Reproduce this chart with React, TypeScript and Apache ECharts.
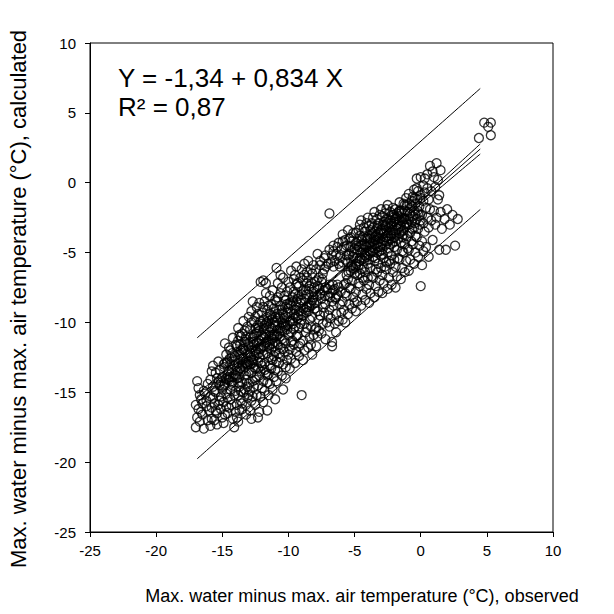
import React, { useEffect, useRef } from "react";
import * as echarts from "echarts";

// Axis ticks
const xTicks = [-25, -20, -15, -10, -5, 0, 5, 10];
const yTicks = [-25, -20, -15, -10, -5, 0, 5, 10];

// Regression
const intercept = -1.34;
const slope = 0.834;
const eqText = "Y = -1,34 + 0,834 X";
const r2Text = "R\u00b2 = 0,87";

// Band positions (x) and half-widths
const bandX = [-16.9, -14, -11, -8, -5, -2, 1, 4.5];
const ciHalf = [0.32, 0.22, 0.13, 0.08, 0.09, 0.15, 0.24, 0.36];
const piHalf = [4.33, 4.31, 4.3, 4.3, 4.3, 4.3, 4.31, 4.33];

// Observed (x) vs calculated (y) points
const points: [number, number][] = [
  [-17.0,-17.5],[-16.9,-16.8],[-16.8,-16.2],[-17.0,-15.9],[-16.7,-17.1],[-16.9,-14.2],[-16.8,-14.7],[-16.6,-15.5],[-16.5,-16.6],[-16.4,-17.6],[-16.3,-15.1],[-16.2,-16.0],[-16.6,-16.4],[-16.1,-17.0],[-16.4,-14.9],[-16.2,-15.6],[-16.0,-16.3],[-16.5,-15.8],[-16.1,-14.4],[-16.7,-15.2],
  [-15.9,-17.4],[-15.8,-16.9],[-15.9,-15.3],[-15.7,-14.6],[-15.8,-16.1],[-15.6,-15.8],[-15.5,-13.6],[-15.7,-13.1],[-15.4,-16.5],[-15.5,-15.0],[-15.3,-14.3],[-15.6,-17.0],[-15.2,-15.6],[-15.4,-14.0],[-15.1,-16.2],[-15.3,-12.8],[-15.2,-13.4],[-15.0,-14.8],[-15.1,-15.3],[-15.9,-14.1],[-15.8,-13.5],[-15.0,-16.8],[-15.4,-17.3],[-15.2,-14.5],[-15.6,-14.9],[-15.5,-16.3],[-15.0,-13.9],[-15.3,-15.9],[-15.7,-15.4],[-15.1,-14.2],
  [-14.9,-17.2],[-14.8,-16.6],[-14.9,-15.7],[-14.7,-15.1],[-14.8,-14.4],[-14.6,-13.7],[-14.9,-13.0],[-14.7,-12.3],[-14.8,-11.5],[-14.5,-16.1],[-14.6,-15.4],[-14.4,-14.8],[-14.5,-14.1],[-14.3,-13.4],[-14.6,-12.8],[-14.4,-12.0],[-14.2,-16.9],[-14.3,-15.9],[-14.1,-15.2],[-14.2,-14.5],[-14.0,-13.8],[-14.1,-13.1],[-14.3,-12.5],[-14.0,-11.6],[-14.2,-11.1],[-14.1,-17.5],[-14.0,-16.4],[-14.5,-13.5],[-14.7,-14.0],[-14.4,-15.5],[-14.8,-12.9],[-14.2,-13.9],[-14.6,-16.5],[-14.0,-14.9],[-14.3,-14.2],[-14.9,-14.6],[-14.1,-12.7],[-14.5,-11.8],[-14.7,-16.0],[-14.4,-13.0],
  [-13.9,-16.8],[-13.8,-17.1],[-13.9,-15.9],[-13.8,-15.2],[-13.7,-14.6],[-13.9,-14.0],[-13.6,-13.5],[-13.8,-12.9],[-13.7,-12.3],[-13.9,-11.7],[-13.6,-11.0],[-13.8,-10.4],[-13.5,-16.2],[-13.6,-15.6],[-13.4,-15.0],[-13.5,-14.3],[-13.3,-13.8],[-13.5,-13.1],[-13.4,-12.6],[-13.6,-12.0],[-13.3,-11.4],[-13.5,-10.8],[-13.4,-9.9],[-13.2,-16.6],[-13.1,-15.4],[-13.3,-14.8],[-13.2,-14.1],[-13.0,-13.5],[-13.2,-12.9],[-13.1,-12.2],[-13.0,-11.7],[-13.2,-11.0],[-13.1,-10.3],[-13.0,-9.6],[-13.7,-13.9],[-13.4,-13.3],[-13.1,-13.0],[-13.6,-14.9],[-13.3,-12.0],[-13.8,-11.3],[-13.5,-15.8],[-13.0,-14.4],[-13.9,-13.2],[-13.2,-15.9],[-13.7,-10.9],[-13.4,-11.9],[-13.1,-14.6],[-13.6,-12.6],[-13.3,-10.6],[-13.0,-12.8],[-13.8,-14.3],[-13.5,-12.2],[-13.2,-13.7],[-13.7,-16.3],[-13.0,-15.2],
  [-12.9,-16.3],[-12.8,-15.6],[-12.9,-14.9],[-12.7,-14.2],[-12.8,-13.6],[-12.9,-13.0],[-12.6,-12.4],[-12.8,-11.8],[-12.7,-11.1],[-12.9,-10.5],[-12.6,-9.9],[-12.8,-9.2],[-12.7,-8.5],[-12.5,-15.9],[-12.4,-15.2],[-12.6,-14.6],[-12.4,-13.9],[-12.5,-13.3],[-12.3,-12.8],[-12.5,-12.1],[-12.4,-11.5],[-12.6,-10.9],[-12.3,-10.2],[-12.5,-9.6],[-12.4,-8.9],[-12.2,-16.4],[-12.1,-15.3],[-12.3,-14.5],[-12.2,-13.8],[-12.0,-13.1],[-12.2,-12.5],[-12.1,-11.9],[-12.0,-11.2],[-12.2,-10.6],[-12.1,-9.9],[-12.0,-9.3],[-12.2,-8.6],[-12.1,-7.1],[-11.9,-7.0],[-11.7,-7.2],[-12.8,-12.7],[-12.6,-13.2],[-12.4,-10.7],[-12.3,-11.9],[-12.7,-12.9],[-12.1,-12.9],[-12.9,-11.4],[-12.5,-14.1],[-12.2,-11.3],[-12.0,-14.7],[-12.6,-11.6],[-12.3,-9.4],[-12.8,-10.0],[-12.4,-12.3],[-12.0,-10.1],[-12.7,-15.3],[-12.1,-13.5],[-12.5,-10.4],[-12.9,-12.2],[-12.3,-13.3],
  [-11.9,-15.7],[-11.8,-14.9],[-11.9,-14.2],[-11.7,-13.6],[-11.8,-12.9],[-11.9,-12.3],[-11.6,-11.7],[-11.8,-11.1],[-11.7,-10.4],[-11.9,-9.8],[-11.6,-9.1],[-11.8,-8.5],[-11.7,-7.9],[-11.5,-15.2],[-11.4,-14.4],[-11.6,-13.8],[-11.4,-13.1],[-11.5,-12.5],[-11.3,-11.9],[-11.5,-11.3],[-11.4,-10.7],[-11.6,-10.1],[-11.3,-9.5],[-11.5,-8.8],[-11.4,-8.1],[-11.2,-14.8],[-11.1,-13.9],[-11.3,-13.3],[-11.2,-12.7],[-11.0,-12.1],[-11.2,-11.5],[-11.1,-10.9],[-11.0,-10.2],[-11.2,-9.7],[-11.1,-9.0],[-11.0,-8.4],[-11.2,-7.7],[-10.9,-6.1],[-11.8,-13.4],[-11.6,-12.2],[-11.4,-11.6],[-11.7,-10.9],[-11.3,-10.4],[-11.0,-11.4],[-11.5,-9.9],[-11.9,-11.0],[-11.1,-12.4],[-11.6,-14.3],[-11.3,-12.6],[-11.8,-10.2],[-11.0,-13.4],[-11.4,-9.4],[-11.7,-11.5],[-11.2,-10.9],[-11.5,-13.7],[-11.9,-8.9],[-11.1,-11.7],[-11.3,-8.7],[-11.6,-9.6],[-11.0,-9.6],
  [-10.9,-14.2],[-10.8,-13.5],[-10.9,-12.8],[-10.7,-12.2],[-10.8,-11.6],[-10.9,-11.0],[-10.6,-10.4],[-10.8,-9.7],[-10.7,-9.1],[-10.9,-8.5],[-10.6,-7.9],[-10.8,-7.2],[-10.5,-13.8],[-10.4,-13.0],[-10.6,-12.5],[-10.4,-11.9],[-10.5,-11.2],[-10.3,-10.6],[-10.5,-10.0],[-10.4,-9.4],[-10.6,-8.8],[-10.3,-8.1],[-10.5,-7.5],[-10.4,-6.8],[-10.2,-14.0],[-10.1,-12.7],[-10.3,-12.1],[-10.2,-11.5],[-10.0,-10.9],[-10.2,-10.2],[-10.1,-9.6],[-10.0,-9.0],[-10.2,-8.4],[-10.1,-7.8],[-10.0,-7.1],[-10.7,-10.8],[-10.3,-11.3],[-10.9,-9.9],[-10.5,-9.1],[-10.1,-10.5],[-10.6,-11.8],[-10.2,-13.2],[-10.8,-8.2],[-10.4,-10.1],[-10.0,-12.3],[-10.7,-12.9],[-10.3,-9.7],[-10.9,-10.6],[-10.1,-8.7],[-10.6,-6.6],
  [-9.9,-13.3],[-9.8,-12.6],[-9.9,-11.9],[-9.7,-11.3],[-9.8,-10.7],[-9.9,-10.0],[-9.6,-9.4],[-9.8,-8.8],[-9.7,-8.2],[-9.9,-7.5],[-9.6,-6.9],[-9.8,-6.3],[-9.5,-12.9],[-9.4,-12.1],[-9.6,-11.6],[-9.4,-11.0],[-9.5,-10.3],[-9.3,-9.7],[-9.5,-9.1],[-9.4,-8.5],[-9.6,-7.8],[-9.3,-7.2],[-9.5,-6.6],[-9.4,-6.0],[-9.2,-12.4],[-9.1,-11.5],[-9.3,-10.9],[-9.2,-10.4],[-9.0,-9.8],[-9.2,-9.2],[-9.1,-8.6],[-9.0,-8.0],[-9.2,-7.4],[-9.1,-6.8],[-9.0,-6.2],[-9.0,-15.2],[-9.7,-9.9],[-9.3,-8.3],[-9.8,-11.4],[-9.1,-10.1],[-9.6,-10.5],[-9.4,-7.3],[-9.9,-8.6],[-9.2,-11.7],[-9.5,-8.0],
  [-8.9,-12.7],[-8.8,-12.0],[-8.9,-11.3],[-8.7,-10.7],[-8.8,-10.1],[-8.9,-9.5],[-8.6,-8.9],[-8.8,-8.3],[-8.7,-7.7],[-8.9,-7.0],[-8.6,-6.4],[-8.8,-5.8],[-8.5,-11.8],[-8.4,-11.1],[-8.6,-10.4],[-8.4,-9.8],[-8.5,-9.2],[-8.3,-8.6],[-8.5,-8.0],[-8.4,-7.4],[-8.6,-6.8],[-8.3,-6.2],[-8.5,-5.6],[-8.2,-12.3],[-8.1,-10.9],[-8.3,-10.3],[-8.2,-9.6],[-8.0,-9.0],[-8.2,-8.4],[-8.1,-7.8],[-8.0,-7.1],[-8.2,-6.5],[-8.1,-5.9],[-8.7,-9.1],[-8.4,-8.8],[-8.0,-10.5],[-8.8,-6.6],[-8.3,-11.6],[-8.6,-7.2],[-8.1,-8.2],
  [-7.9,-11.7],[-7.8,-11.0],[-7.9,-10.4],[-7.7,-9.8],[-7.8,-9.2],[-7.9,-8.6],[-7.6,-8.0],[-7.8,-7.4],[-7.7,-6.8],[-7.9,-6.2],[-7.6,-5.6],[-7.8,-5.1],[-7.5,-10.8],[-7.4,-10.1],[-7.6,-9.5],[-7.4,-8.9],[-7.5,-8.3],[-7.3,-7.7],[-7.5,-7.1],[-7.4,-6.5],[-7.6,-5.9],[-7.3,-5.4],[-7.2,-11.2],[-7.1,-10.0],[-7.3,-9.3],[-7.2,-8.7],[-7.0,-8.1],[-7.2,-7.5],[-7.0,-5.8],[-7.2,-5.2],[-7.7,-10.6],[-7.3,-6.2],[-7.8,-8.1],[-7.0,-9.5],
  [-6.9,-10.3],[-6.8,-9.7],[-6.9,-9.1],[-6.7,-8.5],[-6.8,-7.9],[-6.9,-7.3],[-6.6,-7.7],[-6.8,-5.7],[-6.7,-5.2],[-6.9,-4.8],[-6.6,-4.5],[-6.5,-10.1],[-6.4,-9.4],[-6.6,-8.8],[-6.4,-8.2],[-6.5,-7.6],[-6.3,-7.3],[-6.5,-5.6],[-6.4,-5.1],[-6.6,-4.9],[-6.3,-4.6],[-6.2,-9.9],[-6.1,-8.7],[-6.3,-8.0],[-6.2,-7.5],[-6.2,-5.8],[-6.1,-5.3],[-6.0,-4.8],[-6.2,-4.3],[-6.9,-2.2],[-6.7,-11.4],[-6.7,-11.7],[-6.4,-10.7],[-6.0,-9.3],[-6.1,-6.0],[-6.6,-6.0],
  [-5.9,-9.8],[-5.8,-9.1],[-5.9,-8.5],[-5.7,-7.9],[-5.8,-7.3],[-5.9,-5.7],[-5.6,-5.2],[-5.8,-4.6],[-5.7,-4.1],[-5.9,-3.7],[-5.5,-9.4],[-5.4,-8.7],[-5.6,-8.1],[-5.4,-7.5],[-5.5,-6.9],[-5.3,-6.3],[-5.5,-5.7],[-5.4,-5.1],[-5.6,-4.5],[-5.3,-3.9],[-5.2,-9.0],[-5.1,-8.2],[-5.3,-7.6],[-5.2,-7.0],[-5.0,-6.5],[-5.2,-5.9],[-5.1,-5.3],[-5.0,-4.7],[-5.2,-4.2],[-5.1,-3.6],[-5.6,-6.6],[-5.4,-4.0],[-5.0,-8.6],[-5.7,-10.0],[-5.3,-4.6],[-5.9,-4.2],[-5.1,-6.1],[-5.5,-3.4],[-5.7,-5.5],
  [-4.9,-9.2],[-4.8,-8.5],[-4.9,-7.8],[-4.7,-7.2],[-4.8,-6.6],[-4.9,-6.0],[-4.6,-5.4],[-4.8,-4.8],[-4.7,-4.2],[-4.9,-3.6],[-4.6,-3.0],[-4.5,-8.8],[-4.4,-8.0],[-4.6,-7.4],[-4.4,-6.8],[-4.5,-6.2],[-4.3,-5.6],[-4.5,-5.0],[-4.4,-4.4],[-4.6,-3.8],[-4.3,-3.2],[-4.5,-2.7],[-4.2,-8.4],[-4.1,-7.6],[-4.3,-7.0],[-4.2,-6.4],[-4.0,-5.8],[-4.2,-5.2],[-4.1,-4.6],[-4.0,-4.0],[-4.2,-3.5],[-4.1,-2.9],[-4.0,-2.5],[-4.7,-5.9],[-4.3,-4.8],[-4.8,-5.4],[-4.4,-3.9],[-4.0,-6.8],[-4.6,-6.5],[-4.1,-5.3],[-4.9,-4.3],[-4.5,-4.5],[-4.2,-4.0],[-4.7,-3.4],[-4.3,-6.1],
  [-3.9,-8.6],[-3.8,-7.9],[-3.9,-7.3],[-3.7,-6.7],[-3.8,-6.1],[-3.9,-5.5],[-3.6,-4.9],[-3.8,-4.3],[-3.7,-3.7],[-3.9,-3.1],[-3.6,-2.5],[-3.5,-8.2],[-3.4,-7.4],[-3.6,-6.8],[-3.4,-6.2],[-3.5,-5.6],[-3.3,-5.0],[-3.5,-4.4],[-3.4,-3.8],[-3.6,-3.2],[-3.3,-2.6],[-3.5,-2.1],[-3.2,-7.8],[-3.1,-7.0],[-3.3,-6.4],[-3.2,-5.8],[-3.0,-5.2],[-3.2,-4.6],[-3.1,-4.0],[-3.0,-3.4],[-3.2,-2.9],[-3.1,-2.3],[-3.0,-1.9],[-3.7,-4.6],[-3.4,-4.1],[-3.9,-3.8],[-3.2,-3.6],[-3.6,-5.3],[-3.0,-4.4],[-3.8,-3.4],[-3.3,-3.3],[-3.5,-3.9],[-3.1,-4.9],[-3.7,-2.9],[-3.4,-5.4],[-3.9,-4.5],[-3.0,-6.1],[-3.6,-4.2],[-3.2,-3.9],[-3.8,-5.0],
  [-2.9,-7.9],[-2.8,-7.2],[-2.9,-6.6],[-2.7,-6.0],[-2.8,-5.4],[-2.9,-4.8],[-2.6,-4.2],[-2.8,-3.6],[-2.7,-3.0],[-2.9,-2.4],[-2.6,-1.9],[-2.5,-7.6],[-2.4,-6.8],[-2.6,-6.2],[-2.4,-5.6],[-2.5,-5.0],[-2.3,-4.4],[-2.5,-3.8],[-2.4,-3.2],[-2.6,-2.6],[-2.3,-2.1],[-2.5,-1.6],[-2.2,-7.3],[-2.1,-6.4],[-2.3,-5.8],[-2.2,-5.2],[-2.0,-4.6],[-2.2,-4.0],[-2.1,-3.4],[-2.0,-2.8],[-2.2,-2.3],[-2.1,-1.8],[-2.7,-4.5],[-2.4,-4.0],[-2.9,-3.3],[-2.3,-3.6],[-2.6,-3.4],[-2.0,-3.9],[-2.8,-4.1],[-2.1,-4.3],[-2.5,-2.9],[-2.7,-2.2],[-2.2,-3.1],[-2.9,-5.1],[-2.4,-4.7],[-2.0,-5.5],[-2.6,-5.7],[-2.3,-2.7],[-2.8,-2.8],[-2.1,-2.5],
  [-1.9,-7.5],[-1.8,-6.7],[-1.9,-6.0],[-1.7,-5.4],[-1.8,-4.8],[-1.9,-4.2],[-1.6,-3.6],[-1.8,-3.0],[-1.7,-2.4],[-1.9,-1.9],[-1.6,-1.4],[-1.5,-6.9],[-1.4,-6.1],[-1.6,-5.5],[-1.4,-4.9],[-1.5,-4.3],[-1.3,-3.7],[-1.5,-3.1],[-1.4,-2.5],[-1.6,-2.0],[-1.3,-1.5],[-1.2,-6.4],[-1.1,-5.6],[-1.3,-5.0],[-1.2,-4.4],[-1.0,-3.8],[-1.2,-3.2],[-1.1,-2.6],[-1.0,-2.1],[-1.2,-1.6],[-1.1,-1.1],[-1.7,-3.3],[-1.4,-2.8],[-1.9,-2.6],[-1.3,-3.4],[-1.6,-2.7],[-1.0,-3.0],[-1.8,-2.2],[-1.1,-4.0],[-1.5,-2.2],[-1.7,-4.0],[-1.2,-2.0],[-1.4,-3.9],[-1.9,-3.4],[-1.0,-4.7],
  [-0.9,-6.3],[-0.8,-5.5],[-0.9,-4.8],[-0.7,-4.2],[-0.8,-3.6],[-0.9,-3.0],[-0.6,-2.4],[-0.8,-1.8],[-0.7,-1.3],[-0.9,-0.8],[-0.5,-5.8],[-0.4,-5.0],[-0.6,-4.4],[-0.4,-3.8],[-0.5,-3.2],[-0.3,-2.6],[-0.5,-2.0],[-0.4,-1.5],[-0.6,-1.0],[-0.3,-0.4],[-0.2,-5.3],[-0.1,-4.5],[-0.3,-3.9],[-0.2,-3.3],[0.0,-2.7],[-0.2,-2.2],[-0.1,-1.7],[0.0,-1.1],[-0.2,-0.6],[0.0,-7.4],[-0.7,-2.8],[-0.4,-2.3],[-0.1,-3.0],[-0.8,-2.2],[-0.5,-0.5],[0.0,0.4],[-0.3,0.3],
  [0.1,-5.9],[0.2,-4.9],[0.1,-4.2],[0.3,-3.5],[0.2,-2.9],[0.1,-2.3],[0.4,-1.8],[0.2,-1.3],[0.3,-0.7],[0.5,-0.4],[0.6,-3.2],[0.5,-2.5],[0.7,-1.9],[0.6,-1.2],[0.8,-0.6],[0.3,0.3],[0.5,0.6],[0.7,1.2],[0.9,0.8],[0.8,-2.7],[0.9,-4.1],[0.4,-4.6],[0.6,-5.3],[0.2,-0.2],
  [1.0,-2.0],[1.1,-3.0],[1.2,1.4],[1.3,-1.2],[1.4,-4.8],[1.2,-2.5],[1.5,-2.1],[1.6,-3.3],[1.9,-4.8],[1.8,-2.6],[2.0,-1.9],[2.2,-3.0],[2.6,-4.5],[2.4,-2.3],[2.8,-2.6],[1.1,-0.3],[1.4,-0.9],[1.5,0.9],[1.0,0.4],[1.3,0.2],
  [4.4,3.2],[4.8,4.3],[5.1,4.0],[5.3,4.3],[5.3,3.4],
  // denser core, lower cloud
  [-14.85,-13.2],[-14.85,-14.5],[-14.65,-12.9],[-14.65,-14.1],[-14.45,-12.6],[-14.45,-13.9],[-14.25,-12.2],[-14.25,-14.3],[-14.05,-12.4],[-14.05,-13.7],
  [-13.85,-12.1],[-13.85,-13.5],[-13.65,-11.6],[-13.65,-13.3],[-13.45,-11.9],[-13.45,-13.0],[-13.25,-11.2],[-13.25,-12.9],[-13.05,-11.5],[-13.05,-13.0],
  [-12.85,-11.0],[-12.85,-12.5],[-12.65,-11.4],[-12.65,-12.7],[-12.45,-10.8],[-12.45,-12.0],[-12.25,-10.4],[-12.25,-12.2],[-12.05,-10.9],[-12.05,-11.8],
  [-11.85,-10.5],[-11.85,-11.7],[-11.65,-10.0],[-11.65,-11.4],[-11.45,-10.3],[-11.45,-11.8],[-11.25,-9.8],[-11.25,-11.2],[-11.05,-10.0],[-11.05,-11.0],
  [-10.85,-9.4],[-10.85,-10.9],[-10.65,-9.6],[-10.65,-11.0],[-10.45,-9.3],[-10.45,-10.6],[-10.25,-8.9],[-10.25,-10.3],[-10.05,-9.3],[-10.05,-10.2],
  [-9.85,-8.7],[-9.85,-9.9],[-9.65,-8.5],[-9.65,-10.1],[-9.45,-8.8],[-9.45,-9.6],[-9.25,-8.1],[-9.25,-9.5],[-9.05,-8.4],[-9.05,-9.4],
  [-8.85,-7.7],[-8.85,-9.0],[-8.65,-8.0],[-8.65,-9.3],[-8.45,-7.6],[-8.45,-8.9],[-8.25,-7.2],[-8.25,-8.8],[-8.05,-7.5],[-8.05,-8.6],
  [-12.3,-16.8],[-11.6,-16.3],[-11.0,-15.5],[-10.4,-14.8],[-12.8,-16.9],
  // middle
  [-7.85,-7.0],[-7.65,-7.6],[-7.45,-6.9],[-7.25,-8.1],[-7.05,-7.6],[-6.85,-8.2],[-6.65,-7.3],[-6.45,-8.3],[-6.05,-7.8],[-5.65,-7.2],[-7.55,-7.9],[-7.15,-6.0],
  // denser core, upper cloud
  [-5.45,-5.2],[-5.45,-6.4],[-5.25,-4.9],[-5.25,-6.0],[-5.05,-5.0],[-5.05,-6.2],[-4.85,-4.5],[-4.85,-5.8],[-4.65,-4.6],[-4.65,-5.6],
  [-4.45,-4.1],[-4.45,-5.5],[-4.25,-4.4],[-4.25,-5.4],[-4.05,-3.9],[-4.05,-5.1],[-3.85,-4.0],[-3.85,-4.9],[-3.65,-3.6],[-3.65,-4.9],
  [-3.45,-3.5],[-3.45,-4.7],[-3.25,-3.1],[-3.25,-4.3],[-3.05,-3.6],[-3.05,-4.6],[-2.85,-3.0],[-2.85,-4.3],[-2.65,-3.1],[-2.65,-3.9],
  [-2.45,-2.6],[-2.45,-4.2],[-2.25,-2.9],[-2.25,-3.8],[-2.05,-2.3],[-2.05,-3.6],[-1.85,-2.5],[-1.85,-3.7],[-1.65,-2.1],[-1.65,-3.2],
  [-1.45,-2.0],[-1.45,-3.5],[-1.25,-2.6],[-1.25,-3.0],[-1.05,-1.6],[-1.05,-2.9],[-0.85,-1.5],[-0.85,-2.6],[-0.65,-1.7],[-0.65,-3.3],
  [-0.45,-1.1],[-0.45,-2.9],[-0.25,-1.2],[-0.25,-2.0],[-0.05,-0.9],[-0.05,-2.3],
];

const FONT = "Liberation Sans, Arial, sans-serif";

export default function App() {
  const ref = useRef<HTMLDivElement>(null);
  useEffect(() => {
    if (!ref.current) return;
    const chart = echarts.init(ref.current, null, { renderer: "svg" });
    const fit = (x: number) => intercept + slope * x;
    const lineX = [bandX[0], bandX[bandX.length - 1]];
    const mk = (name: string, data: number[][], smooth = false) => ({
      name,
      type: "line",
      data,
      showSymbol: false,
      symbol: "none",
      smooth,
      lineStyle: { color: "#000", width: 1 },
      z: 3,
      silent: true,
    });
    chart.setOption({
      animation: false,
      backgroundColor: "#fff",
      grid: {
        left: 90,
        right: 61,
        top: 43,
        bottom: 82,
        show: true,
        borderColor: "#000",
        borderWidth: 1,
      },
      xAxis: {
        type: "value",
        min: -25,
        max: 10,
        interval: 5,
        axisLine: { show: true, onZero: false, lineStyle: { color: "#000", width: 1 } },
        axisTick: { show: true, inside: false, length: 5, lineStyle: { color: "#000" } },
        axisLabel: {
          color: "#000",
          fontSize: 15,
          fontFamily: FONT,
          margin: 11,
          formatter: (v: number) => (xTicks.includes(v) ? String(v) : ""),
        },
        splitLine: { show: false },
      },
      yAxis: {
        type: "value",
        min: -25,
        max: 10,
        interval: 5,
        axisLine: { show: true, onZero: false, lineStyle: { color: "#000", width: 1 } },
        axisTick: { show: true, inside: false, length: 5, lineStyle: { color: "#000" } },
        axisLabel: {
          color: "#000",
          fontSize: 15,
          fontFamily: FONT,
          margin: 14,
          formatter: (v: number) => (yTicks.includes(v) ? String(v) : ""),
        },
        splitLine: { show: false },
      },
      graphic: [
        {
          type: "text",
          x: 118,
          y: 78,
          style: { text: eqText, font: `26px ${FONT}`, fill: "#000", verticalAlign: "middle" },
        },
        {
          type: "text",
          x: 118,
          y: 107,
          style: { text: r2Text, font: `26px ${FONT}`, fill: "#000", verticalAlign: "middle" },
        },
        {
          type: "text",
          x: 362,
          y: 596,
          style: {
            text: "Max. water minus max. air temperature (\u00b0C), observed",
            font: `18px ${FONT}`,
            fill: "#000",
            align: "center",
            verticalAlign: "middle",
          },
        },
        {
          type: "text",
          x: 18,
          y: 299,
          rotation: Math.PI / 2,
          style: {
            text: "Max. water minus max. air temperature (\u00b0C), calculated",
            font: `22px ${FONT}`,
            fill: "#000",
            align: "center",
            verticalAlign: "middle",
          },
        },
      ],
      series: [
        {
          name: "data",
          type: "scatter",
          data: points,
          symbol: "circle",
          symbolSize: 9,
          itemStyle: { color: "rgba(0,0,0,0)", borderColor: "#000", borderWidth: 1.3 },
          z: 2,
          silent: true,
        },
        mk("fit", lineX.map((x) => [x, fit(x)])),
        mk("ci-up", bandX.map((x, i) => [x, fit(x) + ciHalf[i]]), true),
        mk("ci-lo", bandX.map((x, i) => [x, fit(x) - ciHalf[i]]), true),
        mk("pi-up", bandX.map((x, i) => [x, fit(x) + piHalf[i]]), true),
        mk("pi-lo", bandX.map((x, i) => [x, fit(x) - piHalf[i]]), true),
      ],
    });
    return () => chart.dispose();
  }, []);
  return (
    <div
      ref={ref}
      style={{ position: "absolute", left: 0, top: 0, width: 614, height: 614 }}
    />
  );
}
